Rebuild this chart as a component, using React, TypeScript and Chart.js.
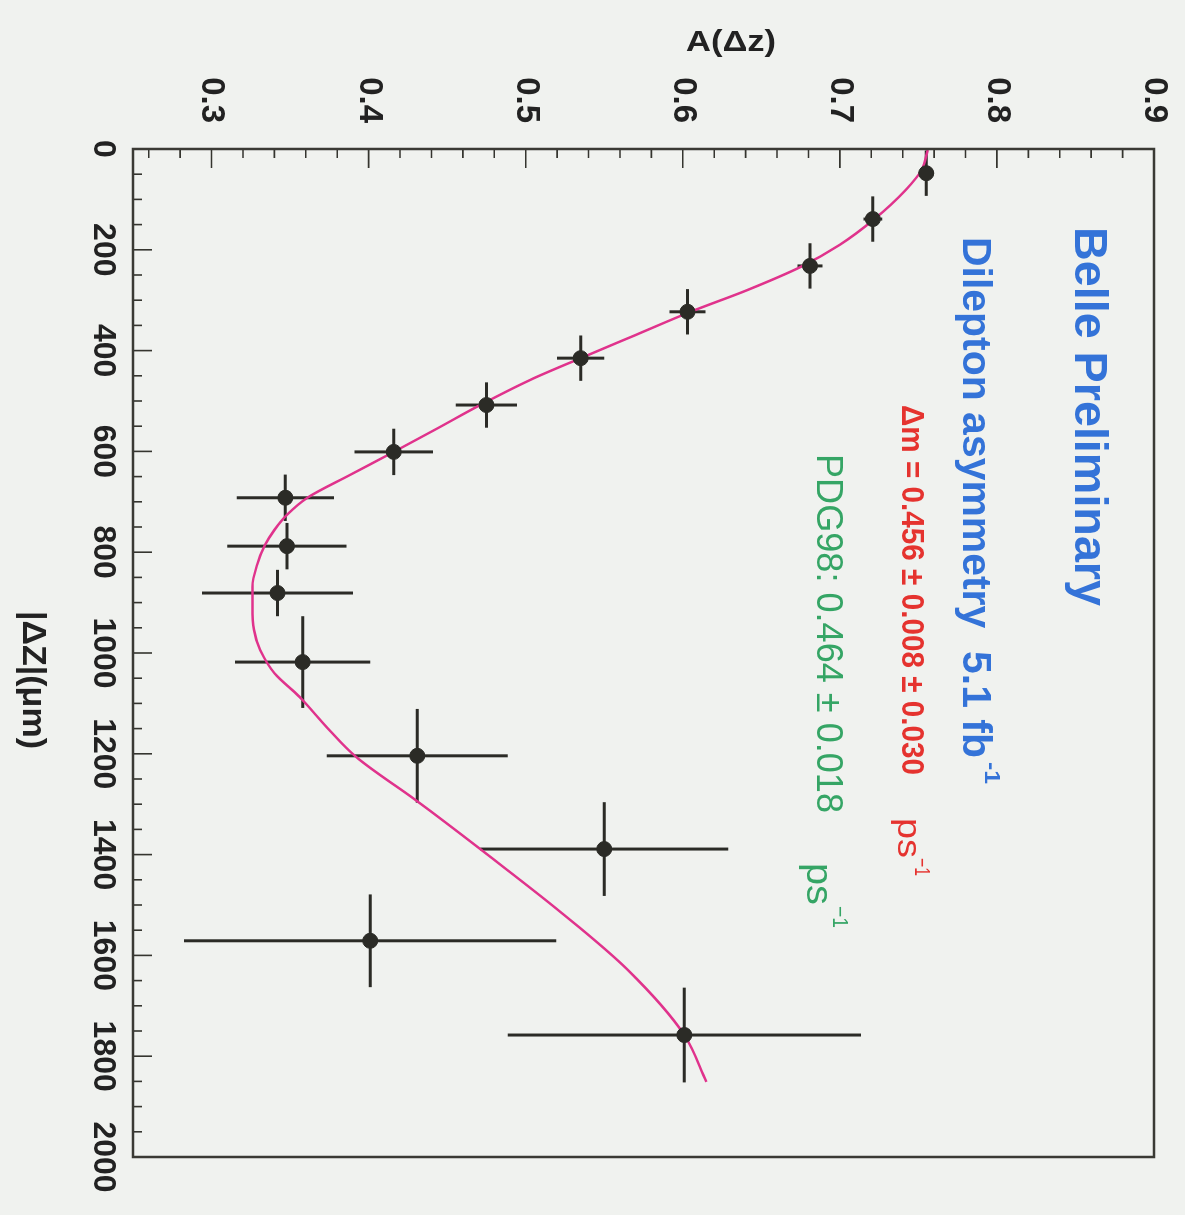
import React, { useEffect, useRef } from 'react';
import { Chart, registerables } from 'chart.js';

Chart.register(...registerables);

// |Δz| bin centres (μm) and measured asymmetry
const deltaZ = [48, 139, 232, 323, 415, 508, 601, 692, 788, 881, 1018, 1204, 1389, 1571, 1758];
const asym = [0.755, 0.721, 0.681, 0.603, 0.535, 0.475, 0.416, 0.347, 0.348, 0.342, 0.358, 0.431, 0.55, 0.401, 0.601];
const deltaZErr = [45, 45, 45, 45, 45, 45, 46, 46, 46, 46, 91, 93, 93, 92, 94];
const asymErr = [0.005, 0.006, 0.008, 0.0115, 0.015, 0.0195, 0.025, 0.031, 0.038, 0.048, 0.043, 0.0576, 0.079, 0.1185, 0.1125];

// fitted curve
const fitZ = [2, 42, 81, 139, 190, 234, 280, 323, 369, 415, 458, 508, 554, 601, 647, 692, 726, 756, 786, 825, 869, 909, 954, 994, 1040, 1087, 1153, 1206, 1292, 1389, 1516, 1629, 1758, 1851];
const fitA = [0.756, 0.752, 0.742, 0.722, 0.7, 0.675, 0.641, 0.605, 0.57, 0.535, 0.503, 0.471, 0.444, 0.416, 0.388, 0.361, 0.348, 0.34, 0.334, 0.329, 0.326, 0.326, 0.327, 0.331, 0.34, 0.356, 0.375, 0.392, 0.43, 0.471, 0.523, 0.565, 0.601, 0.615];

// tick labels
const zTickValues = [0, 200, 400, 600, 800, 1000, 1200, 1400, 1600, 1800, 2000];
const aTickValues = [0.3, 0.4, 0.5, 0.6, 0.7, 0.8, 0.9];

const xTitle = '|ΔZ|(μm)';
const yTitle = 'A(Δz)';
const textTitle = 'Belle Preliminary';
const textSub = 'Dilepton asymmetry  5.1 fb';
const textDm = 'Δm = 0.456 ± 0.008 ± 0.030';
const textPdg = 'PDG98: 0.464 ± 0.018';

const CW = 1215; // canvas width (becomes page height after rotation)
const CH = 1185; // canvas height (becomes page width)

const FONT = '"Liberation Sans", Arial, Helvetica, sans-serif';
const INK = '#2b2b26';

function fitText(ctx: CanvasRenderingContext2D, text: string, x: number, y: number, font: string, color: string, width: number) {
  ctx.save();
  ctx.font = font;
  ctx.fillStyle = color;
  ctx.textBaseline = 'alphabetic';
  ctx.textAlign = 'left';
  const w = ctx.measureText(text).width;
  ctx.translate(x, y);
  ctx.scale(width / w, 1);
  ctx.fillText(text, 0, 0);
  ctx.restore();
}

const rootPlugin = {
  id: 'rootStyle',
  beforeDraw(chart: any) {
    const ctx = chart.ctx;
    ctx.save();
    ctx.fillStyle = '#f0f2ef';
    ctx.fillRect(0, 0, chart.width, chart.height);
    ctx.restore();
  },
  beforeDatasetsDraw(chart: any) {
    const ctx = chart.ctx;
    const xs = chart.scales.x;
    const ys = chart.scales.y;
    ctx.save();
    ctx.strokeStyle = INK;
    ctx.lineWidth = 3;
    ctx.lineCap = 'butt';
    for (let i = 0; i < deltaZ.length; i++) {
      const px = xs.getPixelForValue(deltaZ[i]);
      const py = ys.getPixelForValue(asym[i]);
      const x0 = xs.getPixelForValue(deltaZ[i] - deltaZErr[i]);
      const x1 = xs.getPixelForValue(deltaZ[i] + deltaZErr[i]);
      const y0 = ys.getPixelForValue(asym[i] - asymErr[i]);
      const y1 = ys.getPixelForValue(asym[i] + asymErr[i]);
      ctx.beginPath();
      ctx.moveTo(x0, py);
      ctx.lineTo(x1, py);
      ctx.moveTo(px, y0);
      ctx.lineTo(px, y1);
      ctx.stroke();
    }
    ctx.restore();
  },
  afterDatasetsDraw(chart: any) {
    const ctx = chart.ctx;
    const a = chart.chartArea;
    const xs = chart.scales.x;
    const ys = chart.scales.y;
    ctx.save();
    ctx.strokeStyle = '#35352f';
    ctx.lineWidth = 1.6;
    // inward ticks on the |Δz| axis
    ctx.beginPath();
    for (let z = 50; z < 2000; z += 50) {
      const p = xs.getPixelForValue(z);
      const len = z % 200 === 0 ? 19 : 9;
      ctx.moveTo(p, a.bottom);
      ctx.lineTo(p, a.bottom - len);
    }
    // inward ticks on the A axis
    for (let k = 13; k < 45; k++) {
      const v = k * 0.02;
      const p = ys.getPixelForValue(v);
      const len = k % 5 === 0 ? 19 : 9;
      ctx.moveTo(a.left, p);
      ctx.lineTo(a.left + len, p);
    }
    ctx.stroke();
    // frame
    ctx.lineWidth = 2.5;
    ctx.strokeStyle = '#3a3a34';
    ctx.strokeRect(a.left, a.top, a.right - a.left, a.bottom - a.top);
    ctx.restore();

    // axis titles
    ctx.save();
    ctx.font = 'bold 34px ' + FONT;
    ctx.fillStyle = '#222';
    ctx.textAlign = 'center';
    ctx.textBaseline = 'middle';
    let w = ctx.measureText(xTitle).width;
    ctx.translate(680, 1153);
    ctx.scale(138 / w, 1);
    ctx.fillText(xTitle, 0, 0);
    ctx.restore();

    ctx.save();
    ctx.font = 'bold 30px ' + FONT;
    ctx.fillStyle = '#222';
    ctx.textAlign = 'center';
    ctx.textBaseline = 'middle';
    w = ctx.measureText(yTitle).width;
    ctx.translate(43, 454);
    ctx.rotate(-Math.PI / 2);
    ctx.scale(90 / w, 1);
    ctx.fillText(yTitle, 0, 0);
    ctx.restore();

    // annotations
    const blue = '#3473d8';
    const red = '#e5332f';
    const green = '#35a565';
    fitText(ctx, textTitle, 227, 110, 'bold 46px ' + FONT, blue, 379);
    fitText(ctx, textSub, 237, 222, 'bold 40px ' + FONT, blue, 521);
    fitText(ctx, '-1', 762, 200, 'bold 22px ' + FONT, blue, 22);
    fitText(ctx, textDm, 405, 283, 'bold 32px ' + FONT, red, 370);
    fitText(ctx, 'ps', 818, 287, '34px ' + FONT, red, 40);
    fitText(ctx, '−1', 858, 270, '22px ' + FONT, red, 18);
    fitText(ctx, textPdg, 454, 368, '36px ' + FONT, green, 359);
    fitText(ctx, 'ps', 863, 378, '36px ' + FONT, green, 42);
    fitText(ctx, '−1', 906, 352, '22px ' + FONT, green, 22);
  },
};

export default function App() {
  const ref = useRef<HTMLCanvasElement | null>(null);

  useEffect(() => {
    if (!ref.current) return;
    const tickFont = { family: FONT, weight: 'bold' as const, size: 32 };
    const chart = new Chart(ref.current, {
      type: 'scatter',
      data: {
        datasets: [
          {
            type: 'scatter',
            label: 'data',
            data: deltaZ.map((z, i) => ({ x: z, y: asym[i] })),
            backgroundColor: INK,
            borderColor: INK,
            pointRadius: 7.5,
            pointHoverRadius: 7.5,
            order: 0,
          },
          {
            type: 'line',
            label: 'fit',
            data: fitZ.map((z, i) => ({ x: z, y: fitA[i] })),
            borderColor: '#e0338c',
            borderWidth: 2.5,
            pointRadius: 0,
            fill: false,
            cubicInterpolationMode: 'monotone',
            order: 1,
          } as any,
        ],
      },
      options: {
        animation: false,
        responsive: false,
        devicePixelRatio: 1,
        layout: { padding: { left: 0, top: 31, right: 58, bottom: 0 } },
        plugins: { legend: { display: false }, tooltip: { enabled: false }, title: { display: false } },
        scales: {
          x: {
            type: 'linear',
            position: 'bottom',
            min: 0,
            max: 2000,
            afterBuildTicks: (s: any) => {
              s.ticks = zTickValues.map((v) => ({ value: v }));
            },
            afterFit: (s: any) => {
              s.height = 133;
              s.paddingLeft = 0;
              s.paddingRight = 0;
            },
            grid: { display: false, drawTicks: false },
            border: { display: false },
            ticks: {
              padding: 11,
              font: tickFont,
              color: '#222',
              maxRotation: 0,
              minRotation: 0,
              autoSkip: false,
              callback: (v: any) => String(v),
            },
          },
          y: {
            type: 'linear',
            position: 'left',
            min: 0.25,
            max: 0.9,
            afterBuildTicks: (s: any) => {
              s.ticks = aTickValues.map((v) => ({ value: v }));
            },
            afterFit: (s: any) => {
              s.width = 149;
              s.paddingTop = 0;
              s.paddingBottom = 0;
            },
            grid: { display: false, drawTicks: false },
            border: { display: false },
            ticks: {
              padding: 26,
              font: { ...tickFont, size: 33 },
              color: '#222',
              autoSkip: false,
              callback: (v: any) => Number(v).toFixed(1),
            },
          },
        },
      },
      plugins: [rootPlugin],
    });
    return () => chart.destroy();
  }, []);

  return (
    <div
      style={{
        position: 'fixed',
        left: 0,
        top: 0,
        width: 1185,
        height: 1215,
        overflow: 'hidden',
        background: '#f0f2ef',
      }}
    >
      <canvas
        ref={ref}
        width={CW}
        height={CH}
        style={{
          position: 'absolute',
          left: (1185 - CW) / 2,
          top: (1215 - CH) / 2,
          width: CW,
          height: CH,
          transform: 'rotate(90deg)',
        }}
      />
    </div>
  );
}
